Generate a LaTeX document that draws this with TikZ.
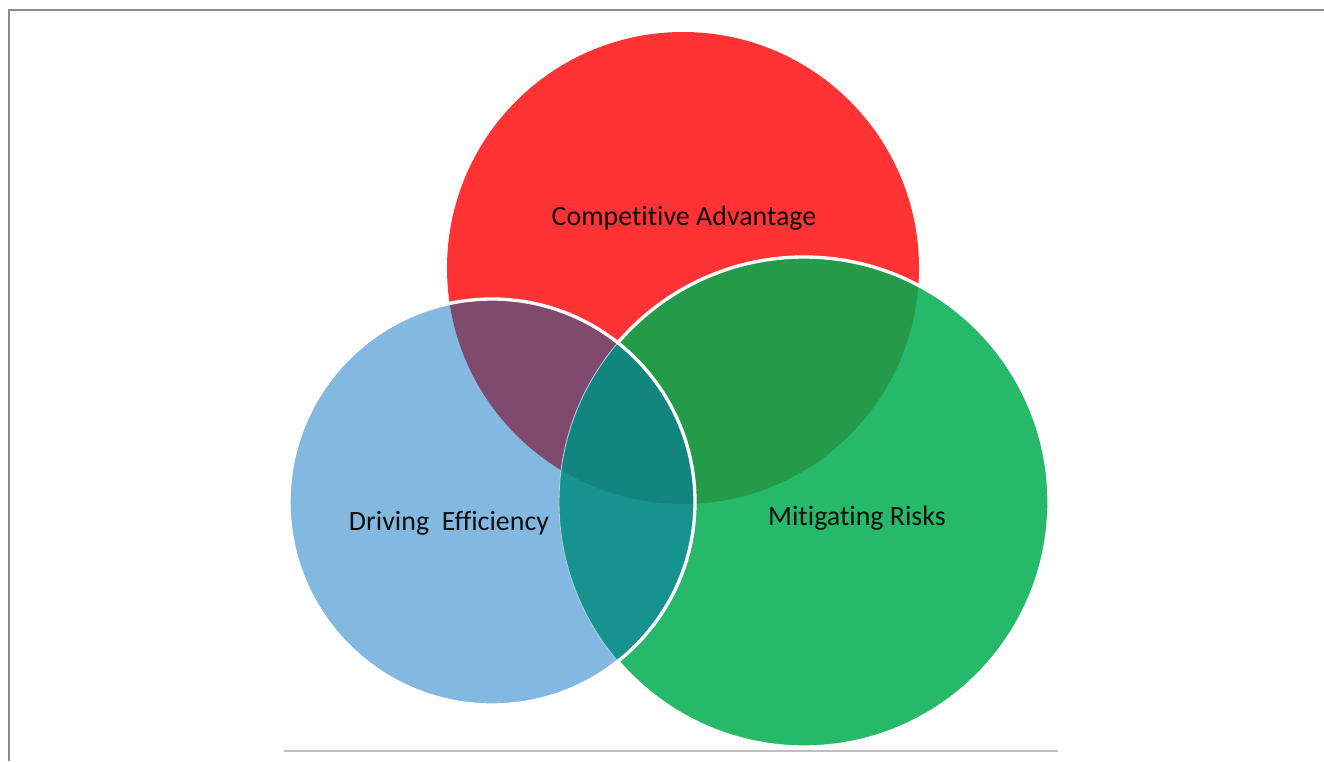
\documentclass[tikz,border=0pt]{standalone}
\usepackage{fontspec}
\setmainfont[Ligatures=NoCommon]{Carlito}
\usepackage{tikz}

\definecolor{redset}{RGB}{255,51,51}
\definecolor{blueset}{RGB}{131,184,224}
\definecolor{greenset}{RGB}{37,185,105}
\definecolor{redgreen}{RGB}{36,155,72}
\definecolor{redblue}{RGB}{127,74,110}
\definecolor{bluegreen}{RGB}{22,147,143}
\definecolor{allthree}{RGB}{19,133,128}
\definecolor{labeltext}{RGB}{15,15,15}

% circle paths (pixel units)
\def\redcirc{(683,268) circle[radius=236]}
\def\greencirc{(804,502) circle[radius=245]}
\def\bluecirc{(492,502) circle[radius=203]}

\begin{document}
\begin{tikzpicture}[
  x=0.02cm, y=-0.02cm,
  label/.style={font=\fontsize{15.9}{18}\selectfont, text=labeltext, inner sep=0pt},
  rim/.style={draw=white, line width=1.9pt},
  frameline/.style={draw=black!45, line width=1pt},
  baseline/.style={draw=black!25, line width=0.8pt}]

  \useasboundingbox (0,0) rectangle (1324,761);

  % page frame
  \draw[frameline] (9,761) -- (9,10) -- (1324,10);
  \draw[baseline] (284,751) -- (1058,751);

  % base circles
  \fill[redset] \redcirc;
  \fill[greenset] \greencirc;
  \begin{scope}
    \clip \redcirc;
    \fill[redgreen] \greencirc;
  \end{scope}
  \draw[rim] \greencirc;

  \fill[blueset] \bluecirc;
  \begin{scope}
    \clip \redcirc;
    \fill[redblue] \bluecirc;
  \end{scope}
  \begin{scope}
    \clip \greencirc;
    \fill[bluegreen] \bluecirc;
  \end{scope}
  \begin{scope}
    \clip \redcirc;
    \clip \greencirc;
    \fill[allthree] \bluecirc;
  \end{scope}

  % faint rim of the green circle seen through the blue one
  \begin{scope}
    \clip \bluecirc;
    \draw[blueset!70!white, line width=0.5pt] \greencirc;
  \end{scope}
  \draw[rim] \bluecirc;

  % labels
  \node[label] (adv) at (684,218) {Competitive Advantage};
  \node[label] (eff) at (449,523) {Driving~~Efficiency};
  \node[label] (risk) at (857,518) {Mitigating Risks};
\end{tikzpicture}
\end{document}
